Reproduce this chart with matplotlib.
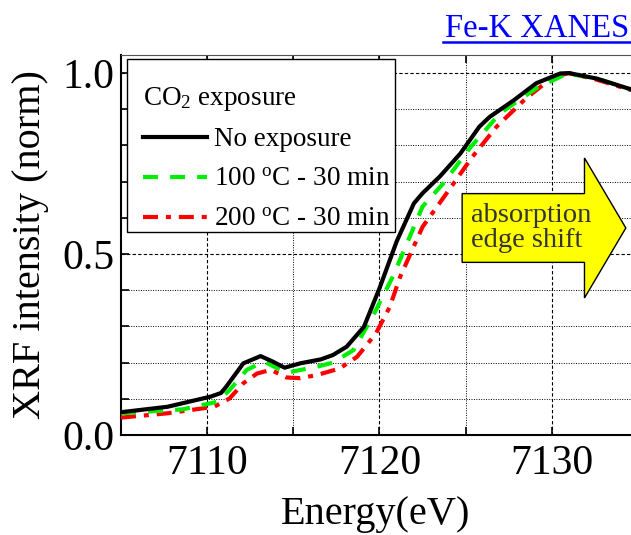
import numpy as np
import matplotlib.pyplot as plt
from matplotlib.patches import FancyArrow, Rectangle
from matplotlib.lines import Line2D

plt.rcParams['font.family'] = ['Liberation Serif', 'DejaVu Serif']
plt.rcParams['mathtext.fontset'] = 'custom'
plt.rcParams['mathtext.rm'] = 'Liberation Serif'
plt.rcParams['mathtext.it'] = 'Liberation Serif:italic'

# Fe-K XANES spectra
e_black = [7105.0, 7107.7, 7110.2, 7110.8, 7111.1, 7112.1, 7113.1, 7113.8, 7114.5,
           7115.4, 7116.6, 7117.3, 7118.1, 7119.1, 7120.0, 7121.0, 7122.0, 7122.5,
           7123.5, 7124.7, 7125.8, 7126.4, 7127.8, 7129.1, 7130.5, 7131.0, 7132.6, 7134.6]
i_black = [0.063, 0.078, 0.106, 0.116, 0.133, 0.198, 0.218, 0.203, 0.186,
           0.198, 0.209, 0.221, 0.244, 0.299, 0.405, 0.535, 0.640, 0.668,
           0.714, 0.778, 0.852, 0.879, 0.925, 0.972, 0.999, 1.0, 0.985, 0.955]

e_green = [7105.0, 7108.6, 7110.6, 7111.3, 7112.3, 7113.3, 7114.6, 7116.4, 7117.3,
           7118.5, 7119.6, 7120.8, 7121.6, 7122.5, 7123.7, 7125.3, 7127.0, 7129.1,
           7130.9, 7132.6, 7134.6]
i_green = [0.060, 0.071, 0.092, 0.124, 0.180, 0.203, 0.172, 0.189, 0.200,
           0.235, 0.327, 0.440, 0.530, 0.631, 0.695, 0.796, 0.889, 0.958,
           0.999, 0.985, 0.955]

e_red = [7105.0, 7107.7, 7110.4, 7111.3, 7112.1, 7112.9, 7113.7, 7114.6, 7115.4,
         7116.4, 7117.7, 7118.7, 7119.8, 7120.6, 7121.2, 7122.5, 7123.9, 7125.4,
         7126.8, 7128.5, 7130.1, 7131.0, 7132.6, 7134.6]
i_red = [0.048, 0.060, 0.078, 0.101, 0.143, 0.170, 0.180, 0.159, 0.157,
         0.166, 0.184, 0.216, 0.281, 0.354, 0.437, 0.575, 0.668, 0.769,
         0.852, 0.930, 0.990, 1.0, 0.982, 0.953]

labels = ['No exposure', '100 $^{\\rm o}$C - 30 min', '200 $^{\\rm o}$C - 30 min']
green = '#00ee00'
styles = [dict(color='black'),
          dict(color=green, dashes=(3.6, 2.9)),
          dict(color='red', dashes=(3.6, 1.9, 1.2, 1.9))]

W, H = 631, 535
def fx(x): return x / W
def fy(y): return 1 - y / H

fig = plt.figure(figsize=(6.31, 5.35), dpi=100)
ax = fig.add_axes([fx(121), fy(435), 1 - fx(121), (435 - 55) / H])

for e, i, st, z in zip([e_black, e_green, e_red], [i_black, i_green, i_red], styles, [5, 4, 3]):
    ax.plot(e, i, lw=3, zorder=z, **st)

ax.set_xlim(7105, 7134.6)
ax.set_ylim(0, 1.05)
ax.set_xticks([7110, 7120, 7130])
ax.set_xticks([7115, 7125], minor=True)
ax.set_yticks([0.0, 0.5, 1.0])
ax.set_yticks(np.arange(0.1, 1.0, 0.1), minor=True)
ax.set_yticklabels(['0.0', '0.5', '1.0'])
ax.grid(True, which='major', color='black', ls=(0, (3, 2)), lw=0.8)
ax.grid(True, which='minor', color='black', ls=(0, (1, 1.5)), lw=0.7)
ax.tick_params(which='both', direction='in', top=True, right=False, labelsize=30,
               length=6, width=1.2)
ax.tick_params(axis='x', pad=7)
ax.tick_params(axis='y', pad=5)
for lab in ax.get_xticklabels() + ax.get_yticklabels():
    lab.set_fontfamily('Liberation Serif')
ax.spines['right'].set_visible(False)
ax.spines['top'].set_color('#555555')
for s in ['left', 'bottom']:
    ax.spines[s].set_linewidth(1.5)

ax.set_xlabel('Energy(eV)', fontsize=29, labelpad=9, fontfamily='Liberation Serif')
ax.set_ylabel('XRF intensity (norm)', fontsize=29, labelpad=9, fontfamily='Liberation Serif')

# legend box drawn by hand
fig.add_artist(Rectangle((fx(127), fy(232)), fx(395) - fx(127), fy(59) - fy(232),
                         transform=fig.transFigure, facecolor='white',
                         edgecolor='black', lw=1.0, zorder=10))
fig.text(fx(143), fy(105), 'CO$_2$ exposure', fontsize=19.5, va='baseline',
         ha='left', zorder=11, fontfamily='Liberation Serif')
for k, (lab, st) in enumerate(zip(labels, styles)):
    yl = 137 + 40 * k
    fig.add_artist(Line2D([fx(143), fx(207)], [fy(yl), fy(yl)], lw=3, zorder=11, **st))
    fig.text(fx(214), fy(yl + 9), lab, fontsize=19.5, va='baseline', ha='left',
             zorder=11, fontfamily='Liberation Serif')

# arrow
arr = FancyArrow(7124.8, 0.572, 9.5, 0, width=0.19, head_width=0.387,
                 head_length=2.4, length_includes_head=True,
                 facecolor='#ffff00', edgecolor='black', lw=1.0, zorder=8)
ax.add_patch(arr)
ax.text(7125.3, 0.572, 'absorption\nedge shift', fontsize=20.5, color='#333333',
        va='center', ha='left', linespacing=0.95, zorder=9,
        fontfamily='Liberation Serif')

fig.text(0.998, fy(37), 'Fe-K XANES', color='blue', fontsize=23.5, ha='right',
         va='baseline', fontfamily='Liberation Serif')
fig.add_artist(Line2D([fx(443), 1.0], [fy(42), fy(42)], color='blue', lw=1.8))

fig.savefig('out.png', dpi=100)
